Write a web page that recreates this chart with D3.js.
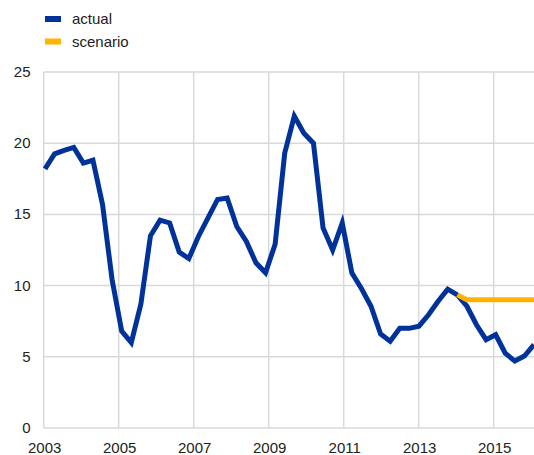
<!DOCTYPE html>
<html>
<head>
<meta charset="utf-8">
<script src="https://cdn.jsdelivr.net/npm/d3@7"></script>
<style>
  body { margin: 0; background: #fff; }
  text { font-family: "Liberation Sans", Arial, sans-serif; font-size: 15px; fill: #222; }
</style>
</head>
<body>
<div id="chart"></div>
<script>
var quarters = [
  "2003Q1","2003Q2","2003Q3","2003Q4","2004Q1","2004Q2","2004Q3","2004Q4",
  "2005Q1","2005Q2","2005Q3","2005Q4","2006Q1","2006Q2","2006Q3","2006Q4",
  "2007Q1","2007Q2","2007Q3","2007Q4","2008Q1","2008Q2","2008Q3","2008Q4",
  "2009Q1","2009Q2","2009Q3","2009Q4","2010Q1","2010Q2","2010Q3","2010Q4",
  "2011Q1","2011Q2","2011Q3","2011Q4","2012Q1","2012Q2","2012Q3","2012Q4",
  "2013Q1","2013Q2","2013Q3","2013Q4","2014Q1","2014Q2","2014Q3","2014Q4",
  "2015Q1","2015Q2","2015Q3","2015Q4"];

var actual = [18.2, 19.25, 19.5, 19.7, 18.6, 18.8, 15.7, 10.4,
  6.8, 6.0, 8.7, 13.5, 14.6, 14.4, 12.35, 11.9,
  13.45, 14.75, 16.05, 16.15, 14.15, 13.1, 11.6, 10.9,
  12.9, 19.3, 21.9, 20.7, 20.0, 14.05, 12.5, 14.4,
  10.9, 9.8, 8.55, 6.6, 6.1, 7.0, 7.0, 7.15,
  7.95, 8.9, 9.75, 9.35, 8.55, 7.25, 6.2, 6.55,
  5.25, 4.7, 5.05, 5.85];

var scenarioQuarters = ["2013Q4","2014Q1","2014Q2","2014Q3","2014Q4","2015Q1","2015Q2","2015Q3","2015Q4"];
var scenario = [9.35, 9.0, 9.0, 9.0, 9.0, 9.0, 9.0, 9.0, 9.0];

var yearTicks = [2003, 2005, 2007, 2009, 2011, 2013, 2015];
var yTicks = [0, 5, 10, 15, 20, 25];

var width = 534, height = 455;

var svg = d3.select("#chart").append("svg")
  .attr("width", width)
  .attr("height", height);

// gridlines use a year scale, the series sits on the quarter scale
var xYear = d3.scaleLinear().domain([2003, 2015]).range([43.7, 493.7]);
var x = d3.scalePoint().domain(quarters).range([45, 534]);
var y = d3.scaleLinear().domain([0, 25]).range([428, 72]);

var grid = svg.append("g");

grid.selectAll(".hgrid")
  .data(yTicks)
  .enter().append("line")
  .attr("x1", xYear(2003))
  .attr("x2", width)
  .attr("y1", d => y(d))
  .attr("y2", d => y(d))
  .attr("stroke", "#d9d9d9")
  .attr("stroke-width", 1.5);

grid.selectAll(".vgrid")
  .data(yearTicks)
  .enter().append("line")
  .attr("x1", d => xYear(d))
  .attr("x2", d => xYear(d))
  .attr("y1", y(25))
  .attr("y2", y(0))
  .attr("stroke", "#d9d9d9")
  .attr("stroke-width", 1.5);

svg.selectAll(".ylab")
  .data(yTicks)
  .enter().append("text")
  .attr("x", 30.5)
  .attr("y", d => y(d) + 5)
  .attr("text-anchor", "end")
  .text(d => d);

svg.selectAll(".xlab")
  .data(yearTicks)
  .enter().append("text")
  .attr("x", d => xYear(d) + 1)
  .attr("y", 453)
  .attr("text-anchor", "middle")
  .text(d => d);

var line = d3.line()
  .x(d => x(d[0]))
  .y(d => y(d[1]));

svg.append("path")
  .datum(quarters.map((q, i) => [q, actual[i]]))
  .attr("fill", "none")
  .attr("stroke", "#003299")
  .attr("stroke-width", 5)
  .attr("d", line);

svg.append("path")
  .datum(scenarioQuarters.map((q, i) => [q, scenario[i]]))
  .attr("fill", "none")
  .attr("stroke", "#ffb400")
  .attr("stroke-width", 5)
  .attr("d", line);

// legend
var legend = [["actual", "#003299"], ["scenario", "#ffb400"]];
var lg = svg.selectAll(".legend")
  .data(legend)
  .enter().append("g")
  .attr("transform", (d, i) => "translate(45," + (19 + i * 22.5) + ")");

lg.append("rect")
  .attr("x", 0)
  .attr("y", -3)
  .attr("width", 16)
  .attr("height", 6)
  .attr("fill", d => d[1]);

lg.append("text")
  .attr("x", 27)
  .attr("y", 5)
  .text(d => d[0]);
</script>
</body>
</html>
